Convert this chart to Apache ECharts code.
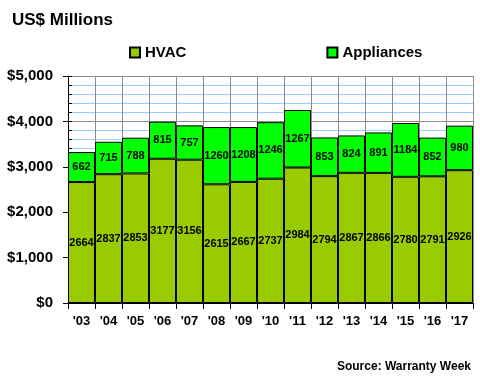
<!DOCTYPE html>
<html><head><meta charset="utf-8">
<script src="https://cdn.jsdelivr.net/npm/echarts@6/dist/echarts.min.js"></script>
<style>html,body{margin:0;padding:0;background:#fff}#c{width:480px;height:380px}</style>
</head><body><div id="c"></div>
<script>
const categories = ["'03","'04","'05","'06","'07","'08","'09","'10","'11","'12","'13","'14","'15","'16","'17"];
const hvac = [2664,2837,2853,3177,3156,2615,2667,2737,2984,2794,2867,2866,2780,2791,2926];
const appliances = [662,715,788,815,757,1260,1208,1246,1267,853,824,891,1184,852,980];
const yTicks = [0,1000,2000,3000,4000,5000];
const F = 'Liberation Sans, Arial, sans-serif';
const chart = echarts.init(document.getElementById('c'));
const lbl = {show:true, position:'inside', color:'#000', fontFamily:F, fontSize:11, fontWeight:'bold'};
chart.setOption({
  animation:false,
  title:[{text:'US$ Millions', left:7, top:7, textStyle:{fontFamily:F, fontSize:17, fontWeight:'bold', color:'#000'}},
         {text:'Source: Warranty Week', right:4, top:356, textStyle:{fontFamily:F, fontSize:12, fontWeight:'bold', color:'#000'}}],
  legend:{left:124, top:40, itemWidth:10, itemHeight:10, itemGap:140, icon:'rect',
    textStyle:{fontFamily:F, fontSize:15, fontWeight:'bold', color:'#000'},
    data:['HVAC','Appliances']},
  grid:{left:68, right:7, top:76, bottom:77, containLabel:false},
  xAxis:{type:'category', data:categories, boundaryGap:true,
    axisLine:{lineStyle:{color:'#000', width:1}},
    axisTick:{show:true, interval:0, length:6, lineStyle:{color:'#000'}},
    axisLabel:{interval:0, color:'#000', fontFamily:F, fontSize:13, fontWeight:'bold', margin:12},
    splitLine:{show:true, interval:0, lineStyle:{color:'#8c8c8c', width:1}}},
  yAxis:[{type:'value', min:yTicks[0], max:yTicks[yTicks.length-1], interval:1000, position:'left',
    axisLine:{show:true, lineStyle:{color:'#000'}},
    axisTick:{show:true, inside:true, length:4, lineStyle:{color:'#000'}},
    minorTick:{show:true, splitNumber:5, length:4, lineStyle:{color:'#000'}},
    minorSplitLine:{show:true, lineStyle:{color:'#99ccff', width:1}},
    splitLine:{show:true, lineStyle:{color:'#8c8c8c', width:1}},
    axisLabel:{color:'#000', fontFamily:F, fontSize:15, fontWeight:'bold', margin:15,
      formatter:v=>'$'+v.toLocaleString('en-US')}},
   {type:'value', min:yTicks[0], max:yTicks[yTicks.length-1], interval:1000, position:'left',
    axisLine:{show:false}, axisLabel:{show:false}, splitLine:{show:false},
    axisTick:{show:true, inside:false, length:5, lineStyle:{color:'#000'}}}],
  series:[
    {name:'HVAC', type:'bar', stack:'t', data:hvac, barCategoryGap:'0%',
     itemStyle:{color:'#99cc00', borderColor:'#000', borderWidth:1}, label:lbl},
    {name:'Appliances', type:'bar', stack:'t', data:appliances, barCategoryGap:'0%',
     itemStyle:{color:'#00ff00', borderColor:'#000', borderWidth:1}, label:lbl}
  ]
});
</script></body></html>
